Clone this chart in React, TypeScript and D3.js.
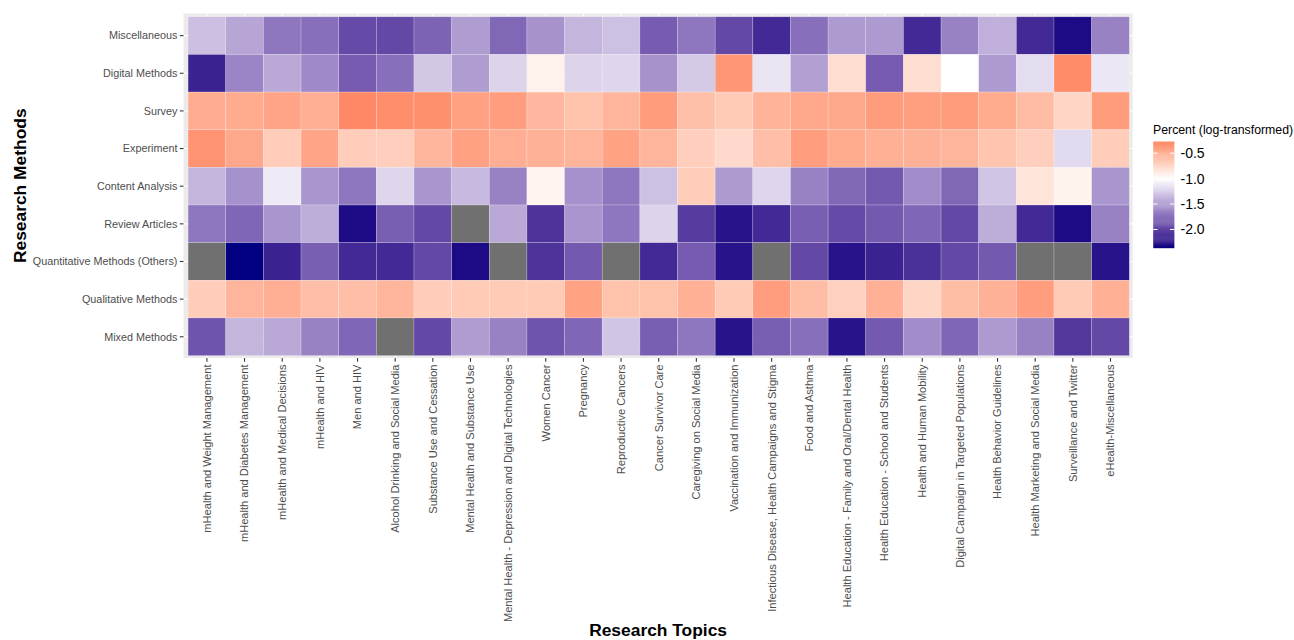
import React from "react";
import * as d3 from "d3";

const topics = [
  "mHealth and Weight Management",
  "mHealth and Diabetes Management",
  "mHealth and Medical Decisions",
  "mHealth and HIV",
  "Men and HIV",
  "Alcohol Drinking and Social Media",
  "Substance Use and Cessation",
  "Mental Health and Substance Use",
  "Mental Health - Depression and Digital Technologies",
  "Women Cancer",
  "Pregnancy",
  "Reproductive Cancers",
  "Cancer Survivor Care",
  "Caregiving on Social Media",
  "Vaccination and Immunization",
  "Infectious Disease, Health Campaigns and Stigma",
  "Food and Asthma",
  "Health Education - Family and Oral/Dental Health",
  "Health Education - School and Students",
  "Health and Human Mobility",
  "Digital Campaign in Targeted Populations",
  "Health Behavior Guidelines",
  "Health Marketing and Social Media",
  "Surveillance and Twitter",
  "eHealth-Miscellaneous",
];

const methods = [
  "Miscellaneous",
  "Digital Methods",
  "Survey",
  "Experiment",
  "Content Analysis",
  "Review Articles",
  "Quantitative Methods (Others)",
  "Qualitative Methods",
  "Mixed Methods",
];

type V = number | null;

const miscellaneous: V[] = [-1.32, -1.45, -1.70, -1.74, -1.95, -1.96, -1.81, -1.50, -1.78, -1.55, -1.37, -1.31, -1.85, -1.70, -1.96, -2.14, -1.74, -1.51, -1.51, -2.14, -1.64, -1.40, -2.14, -2.30, -1.64];
const digitalMethods: V[] = [-2.18, -1.62, -1.43, -1.60, -1.85, -1.74, -1.28, -1.50, -1.21, -0.91, -1.21, -1.20, -1.55, -1.27, -0.35, -1.13, -1.48, -0.79, -1.85, -0.79, -1.0, -1.51, -1.17, -0.28, -1.12];
const survey: V[] = [-0.48, -0.47, -0.43, -0.49, -0.27, -0.30, -0.31, -0.41, -0.39, -0.55, -0.61, -0.53, -0.38, -0.60, -0.66, -0.52, -0.45, -0.45, -0.38, -0.40, -0.38, -0.47, -0.57, -0.73, -0.38];
const experiment: V[] = [-0.33, -0.45, -0.68, -0.43, -0.68, -0.69, -0.54, -0.41, -0.49, -0.51, -0.53, -0.42, -0.53, -0.69, -0.76, -0.59, -0.39, -0.47, -0.50, -0.51, -0.53, -0.63, -0.69, -1.18, -0.68];
const contentAnalysis: V[] = [-1.37, -1.56, -1.10, -1.53, -1.70, -1.20, -1.53, -1.35, -1.64, -0.93, -1.56, -1.70, -1.31, -0.68, -1.51, -1.20, -1.64, -1.78, -1.86, -1.58, -1.78, -1.29, -0.83, -0.92, -1.53];
const reviewArticles: V[] = [-1.70, -1.79, -1.53, -1.41, -2.30, -1.83, -1.96, null, -1.43, -2.08, -1.53, -1.70, -1.21, -2.03, -2.26, -2.14, -1.83, -1.95, -1.86, -1.79, -1.96, -1.41, -2.14, -2.30, -1.64];
const quantitativeOthers: V[] = [null, -2.36, -2.18, -1.83, -2.14, -2.14, -1.96, -2.30, null, -2.08, -1.86, null, -2.14, -1.85, -2.26, null, -1.96, -2.26, -2.18, -2.10, -1.96, -1.86, null, null, -2.26];
const qualitativeMethods: V[] = [-0.68, -0.53, -0.49, -0.59, -0.59, -0.53, -0.68, -0.66, -0.66, -0.66, -0.42, -0.61, -0.61, -0.50, -0.66, -0.39, -0.58, -0.70, -0.50, -0.73, -0.58, -0.51, -0.39, -0.66, -0.50];
const mixedMethods: V[] = [-1.89, -1.37, -1.43, -1.64, -1.79, null, -1.96, -1.50, -1.64, -1.89, -1.79, -1.29, -1.83, -1.70, -2.26, -1.83, -1.74, -2.26, -1.86, -1.58, -1.79, -1.51, -1.64, -2.06, -1.96];

const rows: V[][] = [miscellaneous, digitalMethods, survey, experiment, contentAnalysis, reviewArticles, quantitativeOthers, qualitativeMethods, mixedMethods];

const legendBreaks = [-0.5, -1.0, -1.5, -2.0];
const legendTitle = "Percent (log-transformed)";
const xTitle = "Research Topics";
const yTitle = "Research Methods";

const FONT = "'Liberation Sans', Arial, Helvetica, sans-serif";

export default function App() {
  const W = 1294, H = 640;
  const panel = { x0: 183.5, y0: 13.5, x1: 1132.7, y1: 358 };
  const x = d3.scaleBand<string>().domain(topics).range([188.1, 1129.3]).padding(0);
  const y = d3.scaleBand<string>().domain(methods).range([16.8, 355.6]).padding(0);

  const all = rows.flat().filter((v): v is number => v !== null);
  const [vmin, vmax] = d3.extent(all) as [number, number];
  const mid = -1.0;
  const lowSpan = mid - vmin;
  const highSpan = 1.2;
  const color = d3
    .scaleLinear<string>()
    .domain([mid - lowSpan, mid, mid + highSpan])
    .range(["#000080", "#ffffff", "#ff0000"])
    .interpolate(d3.interpolateLab)
    .clamp(true);

  const bar = { x: 1153.3, w: 21, top: 141.5, bottom: 247.8 };
  const ly = d3.scaleLinear().domain([vmin, vmax]).range([bar.bottom, bar.top]);
  const steps = d3.range(0, 100).map((i) => vmin + ((vmax - vmin) * (i + 0.5)) / 100);
  const stepH = (bar.bottom - bar.top) / 100;

  return (
    <svg width={W} height={H} style={{ position: "absolute", left: 0, top: 0, background: "#fff" }} fontFamily={FONT}>
      <rect x={panel.x0} y={panel.y0} width={panel.x1 - panel.x0} height={panel.y1 - panel.y0} fill="#EBEBEB" />
      {topics.map((t) => (
        <line key={"gx" + t} x1={x(t)! + x.bandwidth() / 2} x2={x(t)! + x.bandwidth() / 2} y1={panel.y0} y2={panel.y1} stroke="#fff" strokeWidth={1.07} />
      ))}
      {methods.map((m) => (
        <line key={"gy" + m} y1={y(m)! + y.bandwidth() / 2} y2={y(m)! + y.bandwidth() / 2} x1={panel.x0} x2={panel.x1} stroke="#fff" strokeWidth={1.07} />
      ))}
      {rows.map((row, ri) =>
        row.map((v, ci) => (
          <rect
            key={ri + "-" + ci}
            x={x(topics[ci])!}
            y={y(methods[ri])!}
            width={x.bandwidth()}
            height={y.bandwidth()}
            fill={v === null ? "#707070" : color(v)}
            stroke="#ffffff"
            strokeOpacity={0.35}
            strokeWidth={0.6}
          />
        ))
      )}
      {methods.map((m) => {
        const cy = y(m)! + y.bandwidth() / 2;
        return (
          <g key={"yl" + m}>
            <line x1={179.8} x2={panel.x0} y1={cy} y2={cy} stroke="#333" strokeWidth={1.07} />
            <text x={177.4} y={cy} dy="0.35em" textAnchor="end" fontSize={10.8} fill="#4D4D4D">{m}</text>
          </g>
        );
      })}
      {topics.map((t) => {
        const cx = x(t)! + x.bandwidth() / 2;
        return (
          <g key={"xl" + t}>
            <line x1={cx} x2={cx} y1={panel.y1} y2={panel.y1 + 3.7} stroke="#333" strokeWidth={1.07} />
            <text transform={`translate(${cx},${panel.y1 + 6.5})rotate(-90)`} dy="0.35em" textAnchor="end" fontSize={11.1} fill="#4D4D4D">{t}</text>
          </g>
        );
      })}
      <text x={(panel.x0 + panel.x1) / 2} y={636} textAnchor="middle" fontSize={17.4} fontWeight="bold" fill="#000">{xTitle}</text>
      <text transform={`translate(26,${(panel.y0 + panel.y1) / 2})rotate(-90)`} textAnchor="middle" fontSize={17.4} fontWeight="bold" fill="#000">{yTitle}</text>

      <text x={1153} y={133.5} fontSize={12.3} fill="#000">{legendTitle}</text>
      {steps.map((v, i) => (
        <rect key={"lg" + i} x={bar.x} y={bar.bottom - (i + 1) * stepH} width={bar.w} height={stepH + 0.4} fill={color(v)} />
      ))}
      {legendBreaks.map((b) => (
        <g key={"lb" + b}>
          <line x1={bar.x} x2={bar.x + 4.2} y1={ly(b)} y2={ly(b)} stroke="#fff" strokeWidth={1} />
          <line x1={bar.x + bar.w - 4.2} x2={bar.x + bar.w} y1={ly(b)} y2={ly(b)} stroke="#fff" strokeWidth={1} />
          <text x={1180.5} y={ly(b)} dy="0.35em" fontSize={14} fill="#000">{b.toFixed(1)}</text>
        </g>
      ))}
    </svg>
  );
}
